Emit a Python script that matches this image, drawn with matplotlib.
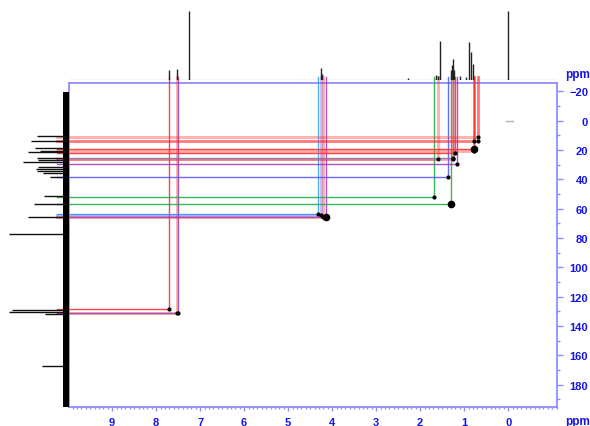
import matplotlib.pyplot as plt
from matplotlib.ticker import MultipleLocator, FixedLocator

# 1H spectrum (top trace): shift (ppm) and relative height
h1_shift = [7.70, 7.52, 7.26, 4.25, 4.22, 2.28, 1.64, 1.60, 1.56, 1.30, 1.27, 1.25, 1.22,
            1.10, 0.95, 0.88, 0.84, 0.80, 0.00]
h1_int = [0.12, 0.13, 0.85, 0.15, 0.08, 0.02, 0.06, 0.05, 0.48, 0.12, 0.18, 0.26, 0.12,
          0.05, 0.04, 0.47, 0.35, 0.20, 0.85]

# 13C spectrum (left trace): shift (ppm) and relative height
c13_shift = [10.7, 13.7, 18.9, 20.5, 21.6, 25.7, 26.7, 28.4, 31.5, 33.0, 34.5, 36.0, 38.7,
             51.6, 57.1, 66.0, 77.2, 129.0, 130.8, 132.0, 167.6]
c13_int = [0.46, 0.55, 0.49, 0.42, 0.59, 0.46, 0.45, 0.67, 0.45, 0.48, 0.46, 0.38, 0.28,
           0.36, 0.51, 0.59, 0.87, 0.83, 0.87, 0.35, 0.39]

# x tick labels (1H axis)
x_ticks = [9, 8, 7, 6, 5, 4, 3, 2, 1, 0]

# HSQC cross peaks: 1H shift, 13C shift, colour, pale line?, big dot?
xp_h = [7.70, 7.51, 7.53, 4.32, 4.26, 4.20, 4.14, 1.68, 1.59, 1.36, 1.30, 1.25, 1.25,
        1.20, 1.17, 0.77, 0.77, 0.77, 0.69, 0.69]
xp_c = [128.5, 130.9, 131.1, 63.7, 64.0, 65.8, 66.0, 51.9, 26.2, 38.7, 56.9, 25.7, 26.4,
        22.3, 29.6, 14.1, 19.4, 20.5, 11.0, 13.7]
xp_col = ['red', 'blue', 'red', 'cyan', 'blue', 'red', 'purple', 'green', 'red', 'blue',
          'green', 'cyan', 'red', 'red', 'purple', 'red', 'red', 'red', 'red', 'red']
xp_pale = [False, False, True, False, True, True, False, False, True, False,
           False, False, True, False, False, True, False, True, True, True]
xp_big = [False, False, False, False, False, False, True, False, False, False,
          True, False, False, False, False, False, True, False, False, False]

palette = {'red': '#ff3030', 'blue': '#5a5aff', 'cyan': '#3aa8ff',
           'green': '#22b04a', 'purple': '#a040c0'}
axis_col = '#8c8cff'
label_col = '#1414e6'

W, H = 590, 427
fig = plt.figure(figsize=(W / 100, H / 100), dpi=100)


def box(x0, y0, x1, y1):
    return [x0 / W, 1 - y1 / H, (x1 - x0) / W, (y1 - y0) / H]


ax = fig.add_axes(box(69, 84, 557, 408))
ax_h = fig.add_axes(box(69, 0, 557, 81))
ax_c = fig.add_axes(box(0, 84, 69, 408))

xlim = (9.98, -1.11)
ylim = (195.3, -25.7)

# main 2D frame
ax.set_xlim(*xlim)
ax.set_ylim(*ylim)
for s in ax.spines.values():
    s.set_color(axis_col)
    s.set_linewidth(1.3)
ax.xaxis.set_major_locator(FixedLocator(x_ticks))
ax.xaxis.set_minor_locator(MultipleLocator(0.1))
ax.yaxis.set_major_locator(MultipleLocator(20))
ax.yaxis.set_minor_locator(MultipleLocator(10))
ax.yaxis.tick_right()
ax.tick_params(axis='x', which='major', direction='out', length=3, width=1,
               color=axis_col, labelcolor=label_col, labelsize=8, pad=4)
ax.tick_params(axis='x', which='minor', direction='out', length=1.5, width=1, color=axis_col)
ax.tick_params(axis='y', which='major', direction='out', length=4.5, width=1,
               color=axis_col, labelcolor=label_col, labelsize=8, pad=18)
ax.tick_params(axis='y', which='minor', direction='out', length=2, width=1, color=axis_col)
for t in ax.get_xticklabels() + ax.get_yticklabels():
    t.set_fontfamily('Liberation Sans')
    t.set_fontweight('bold')
for t in ax.get_yticklabels():
    t.set_horizontalalignment('right')

# cross peaks with their guide lines
for h, c, col, pale, big in zip(xp_h, xp_c, xp_col, xp_pale, xp_big):
    lc = palette[col]
    lw, al = (2.0, 0.4) if pale else (1.0, 0.9)
    ax.plot([10.25, h], [c, c], color=lc, lw=lw, alpha=al, clip_on=False, zorder=3)
    ax.plot([h, h], [-29.8, c], color=lc, lw=lw, alpha=al, clip_on=False, zorder=3)
    ax.plot(h, c, 'o', color='black', ms=4.5 if big else 2.0, zorder=4)

# small TMS mark
ax.plot([0.05, -0.1], [0.5, 0.5], color='#b0b0b0', lw=1)

# 1H trace on top
ax_h.set_xlim(*xlim)
ax_h.set_ylim(0, 1)
ax_h.axis('off')
ax_h.plot(xlim, [0.005, 0.005], color='#555555', lw=0.8)
ax_h.vlines(h1_shift, 0, h1_int, color='#222222', lw=1.0)

# 13C trace on the left
ax_c.set_ylim(*ylim)
ax_c.set_xlim(1, 0)
ax_c.axis('off')
ax_c.fill_betweenx([-19.5, 195], 0.0, 0.09, color='black', lw=0)
ax_c.hlines(c13_shift, 0.05, c13_int, color='#111111', lw=1.0)

fig.text(578 / W, 1 - 75 / H, 'ppm', color=label_col, fontsize=8.5, fontweight='bold',
         family='Liberation Sans', ha='center', va='center')
fig.text(578 / W, 1 - 422 / H, 'ppm', color=label_col, fontsize=8.5, fontweight='bold',
         family='Liberation Sans', ha='center', va='center')

fig.savefig('out.png', dpi=100, facecolor='white')
